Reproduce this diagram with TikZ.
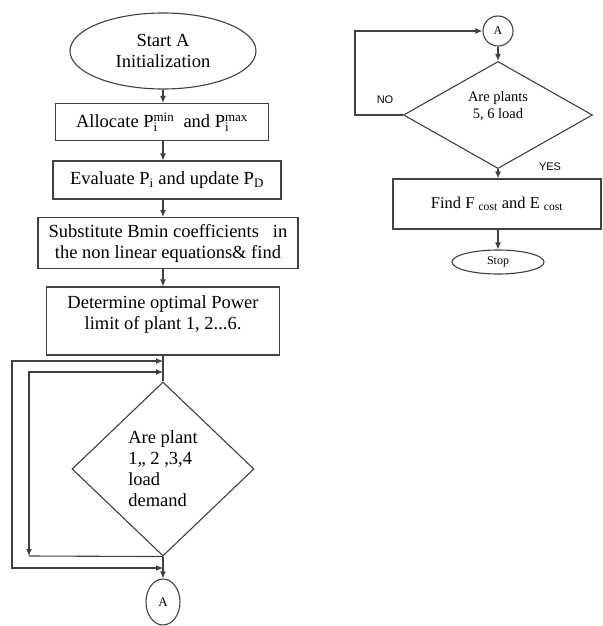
\documentclass[tikz,border=0pt]{standalone}
\usepackage{fontspec}
\setmainfont{Liberation Serif}
\newfontfamily\labelfont{Liberation Sans}
\usetikzlibrary{shapes.geometric, arrows.meta, positioning, calc}

\tikzset{
  line/.style={draw=black!75, line width=1.1pt},
  arrow/.style={line, -{Latex[length=7pt,width=6pt]}},
  twoway/.style={line, {Latex[length=7pt,width=6pt]}-{Latex[length=7pt,width=6pt]}},
  process/.style={line, rectangle, align=center, inner sep=2pt},
  decision/.style={line, diamond, inner sep=0pt},
  terminal/.style={line, ellipse, align=center, inner sep=0pt},
  tag/.style={font=\labelfont\fontsize{11}{13}\selectfont}
}

\begin{document}
\begin{tikzpicture}[x=1pt, y=-1pt, font=\fontsize{18.5}{21}\selectfont]
\useasboundingbox (0,0) rectangle (602,626);

% Left column
\node[terminal, minimum width=186pt, minimum height=76pt] (start) at (163,51) {Start A\\Initialization};
\node[process, minimum width=213pt, minimum height=37pt] (alloc) at (162,122)
  {Allocate $\mathrm{P}_{\mathrm{i}}^{\mathrm{min}}$\ \ and $\mathrm{P}_{\mathrm{i}}^{\mathrm{max}}$};
\node[process, minimum width=228pt, minimum height=38pt] (eval) at (167,180)
  {Evaluate P\textsubscript{i} and update P\textsubscript{D}};
\node[process, minimum width=260pt, minimum height=51pt] (subst) at (168,243)
  {Substitute Bmin coefficients\ \ \ in\\the non linear equations\& find};
\node[process, minimum width=233pt, minimum height=68pt, text depth=16pt] (determ) at (163,321)
  {Determine optimal Power\\limit of plant 1, 2...6.};
\node[decision, minimum width=182pt, minimum height=174pt, align=left, xshift=-3pt] (check1) at (166,469)
  {Are plant\\1,, 2 ,3,4\\load\\demand};
\node[terminal, minimum width=34pt, minimum height=46pt, font=\fontsize{13}{15}\selectfont] (linkA) at (163,602) {A};

\draw[arrow] (start.south) -- (start.south |- alloc.north);
\draw[arrow] (alloc.south -| start.south) -- (start.south |- eval.north);
\draw[arrow] (eval.south -| start.south) -- (start.south |- subst.north);
\draw[arrow] (subst.south -| start.south) -- (start.south |- determ.north);
\draw[line] (determ.south -| check1.north) -- (check1.north);

% Loops round the first test
\coordinate (outerTop) at (163,361);
\coordinate (outerLeft) at (12,568);
\coordinate (outerBot) at (163,568);
\coordinate (innerTop) at (163,372);
\coordinate (innerBot) at (29,556);
\draw[twoway] (outerTop) -| (outerLeft) -- (outerBot);
\draw[twoway] (innerTop) -| (innerBot);
\draw[line] (innerBot) -- (check1.south);
\draw[arrow] (check1.south) -- (linkA.north);

% Right column
\node[terminal, minimum size=30pt, font=\fontsize{12}{14}\selectfont] (linkB) at (498,31) {A};
\node[decision, minimum width=189pt, minimum height=93pt, align=center, text depth=20pt, font=\fontsize{14.5}{17}\selectfont] (check2) at (498,115)
  {Are plants\\5, 6 load};
\node[process, minimum width=208pt, minimum height=50pt, font=\fontsize{16.5}{19}\selectfont] (cost) at (497,204)
  {Find F \textsubscript{cost} and E \textsubscript{cost}};
\node[terminal, minimum width=92pt, minimum height=24pt, font=\fontsize{12}{14}\selectfont] (stop) at (498,262) {Stop};

\draw[arrow] (linkB.south) -- (check2.north);
\draw[arrow] (check2.west) -- ++(-48,0) |- (linkB.west);
\node[tag] (no) at (385,100) {NO};
\draw[arrow] (check2.south) -- (check2.south |- cost.north);
\node[tag] (yes) at (550,167) {YES};
\draw[arrow] (cost.south -| stop.north) -- (stop.north);
\end{tikzpicture}
\end{document}
